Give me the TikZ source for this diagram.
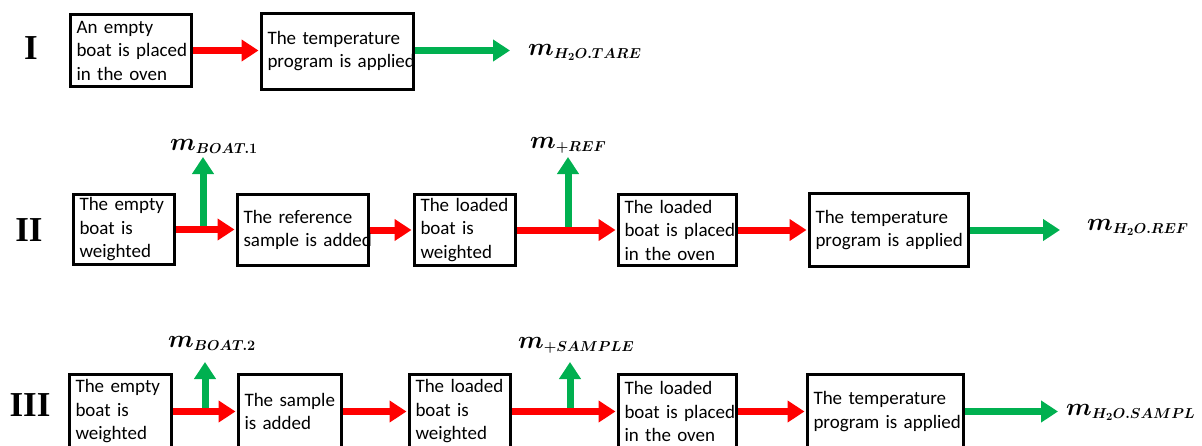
\documentclass[tikz,border=0pt]{standalone}
\usepackage{amsmath,bm}
\usepackage{fontspec}
\setmainfont{Carlito}
\newfontfamily\numfont{Liberation Serif}
\usetikzlibrary{arrows.meta}
\DeclareMathSizes{24}{24}{15.5}{11}
\definecolor{flowred}{RGB}{255,0,0}
\definecolor{flowgreen}{RGB}{0,176,80}
\newcommand\bline[1]{\mbox{#1}}
\pgfdeclarelayer{background}
\pgfsetlayers{background,main}

\tikzset{
  stepbox/.style={draw=black, line width=3pt, fill=white, inner xsep=6pt, inner ysep=0pt,
    align=left, font=\fontsize{19}{23.5}\selectfont},
  flowarr/.style={draw=flowred, line width=7pt, -{Triangle[length=17pt,width=21pt]}},
  yieldarr/.style={draw=flowgreen, line width=7pt, -{Triangle[length=17pt,width=21pt]}},
  mass/.style={inner sep=0pt, font=\fontsize{24}{28}\selectfont},
  stage/.style={inner sep=0pt, font=\numfont\bfseries\fontsize{35}{40}\selectfont},
}

\begin{document}
\begin{tikzpicture}[x=1pt,y=-1pt]
\useasboundingbox (0,0) rectangle (1202,445);
\clip (0,0) rectangle (1202,445);

% ---------- stage labels ----------
\node[stage] (s1) at (31,48) {I};
\node[stage] (s2) at (29,230) {II};
\node[stage] (s3) at (30,405) {III};

% ---------- stage I ----------
\node[stepbox, minimum height=72pt, text width=109pt] (A1) at (131,50.5)
  {\bline{An empty}\\\bline{boat is placed}\\\bline{in the oven}};
\node[stepbox, minimum height=76pt, text width=140pt] (A2) at (337.5,51)
  {\bline{The temperature}\\\bline{program is applied}};
\node[mass, anchor=base west] (tare) at (528,55) {$\bm{m}_{\bm{H}_{\bm{2}}\bm{O.TARE}}$};

% ---------- stage II ----------
\node[stepbox, minimum height=70pt, text width=89pt] (B1) at (124,229.5)
  {\bline{The empty}\\\bline{boat is}\\\bline{weighted}};
\node[stepbox, minimum height=71pt, text width=119pt] (B2) at (303,230)
  {\bline{The reference}\\\bline{sample is added}};
\node[stepbox, minimum height=71pt, text width=89pt] (B3) at (465,230)
  {\bline{The loaded}\\\bline{boat is}\\\bline{weighted}};
\node[stepbox, minimum height=71pt, text width=106pt] (B4) at (677.5,230)
  {\bline{The loaded}\\\bline{boat is placed}\\\bline{in the oven}};
\node[stepbox, minimum height=73pt, text width=147pt] (B5) at (889,230)
  {\bline{The temperature}\\\bline{program is applied}};
\node[mass, anchor=base west] (mb1) at (170,150) {$\bm{m}_{\bm{BOAT.1}}$};
\node[mass, anchor=base west] (mref) at (530,148) {$\bm{m}_{\bm{+REF}}$};
\node[mass, anchor=base west] (href) at (1087,230) {$\bm{m}_{\bm{H}_{\bm{2}}\bm{O.REF}}$};

% ---------- stage III ----------
\node[stepbox, minimum height=74pt, text width=90pt] (C1) at (120.5,411.5)
  {\bline{The empty}\\\bline{boat is}\\\bline{weighted}};
\node[stepbox, minimum height=74pt, text width=91pt] (C2) at (290,411.5)
  {\bline{The sample}\\\bline{is added}};
\node[stepbox, minimum height=74pt, text width=89pt] (C3) at (460,411.5)
  {\bline{The loaded}\\\bline{boat is}\\\bline{weighted}};
\node[stepbox, minimum height=74pt, text width=106pt] (C4) at (677.5,411.5)
  {\bline{The loaded}\\\bline{boat is placed}\\\bline{in the oven}};
\node[stepbox, minimum height=74pt, text width=144pt] (C5) at (885.5,411.5)
  {\bline{The temperature}\\\bline{program is applied}};
\node[mass, anchor=base west] (mb2) at (168,347) {$\bm{m}_{\bm{BOAT.2}}$};
\node[mass, anchor=base west] (msmp) at (518,348) {$\bm{m}_{\bm{+SAMPLE}}$};
\node[mass, anchor=base west] (hsmp) at (1066,415) {$\bm{m}_{\bm{H}_{\bm{2}}\bm{O.SAMPL}}$};

% ---------- branch points of the weighing outputs ----------
\coordinate (j1) at (203,229.5);  \coordinate (t1) at (203,157);
\coordinate (j2) at (568,229.5);  \coordinate (t2) at (568,157);
\coordinate (j3) at (205,411.5);  \coordinate (t3) at (205,362);
\coordinate (j4) at (570,411.5);  \coordinate (t4) at (570,362);

\begin{pgfonlayer}{background}
% green outputs (drawn first so the red flow lies on top)
\draw[yieldarr] (j1) -- (t1);
\draw[yieldarr] (j2) -- (t2);
\draw[yieldarr] (j3) -- (t3);
\draw[yieldarr] (j4) -- (t4);
\draw[yieldarr, shorten >=18pt] (A2.east |- A1.east) -- (A1.east -| tare.west);
\draw[yieldarr, shorten >=27pt] (B5.east) -- (B5.east -| href.west);
\draw[yieldarr, shorten >=8pt] (C5.east) -- (C5.east -| hsmp.west);

% red process flow
\draw[flowarr, shorten >=1.5pt] (A1.east) -- (A1.east -| A2.west);
\draw[flowarr, shorten >=1.5pt] (B1.east) -- (B1.east -| B2.west);
\draw[flowarr, shorten >=1.5pt] (B2.east) -- (B2.east -| B3.west);
\draw[flowarr, shorten >=1.5pt] (B3.east) -- (B3.east -| B4.west);
\draw[flowarr, shorten >=1.5pt] (B4.east) -- (B4.east -| B5.west);
\draw[flowarr, shorten >=1.5pt] (C1.east) -- (C1.east -| C2.west);
\draw[flowarr, shorten >=1.5pt] (C2.east) -- (C2.east -| C3.west);
\draw[flowarr, shorten >=1.5pt] (C3.east) -- (C3.east -| C4.west);
\draw[flowarr, shorten >=1.5pt] (C4.east) -- (C4.east -| C5.west);
\end{pgfonlayer}
\end{tikzpicture}
\end{document}
